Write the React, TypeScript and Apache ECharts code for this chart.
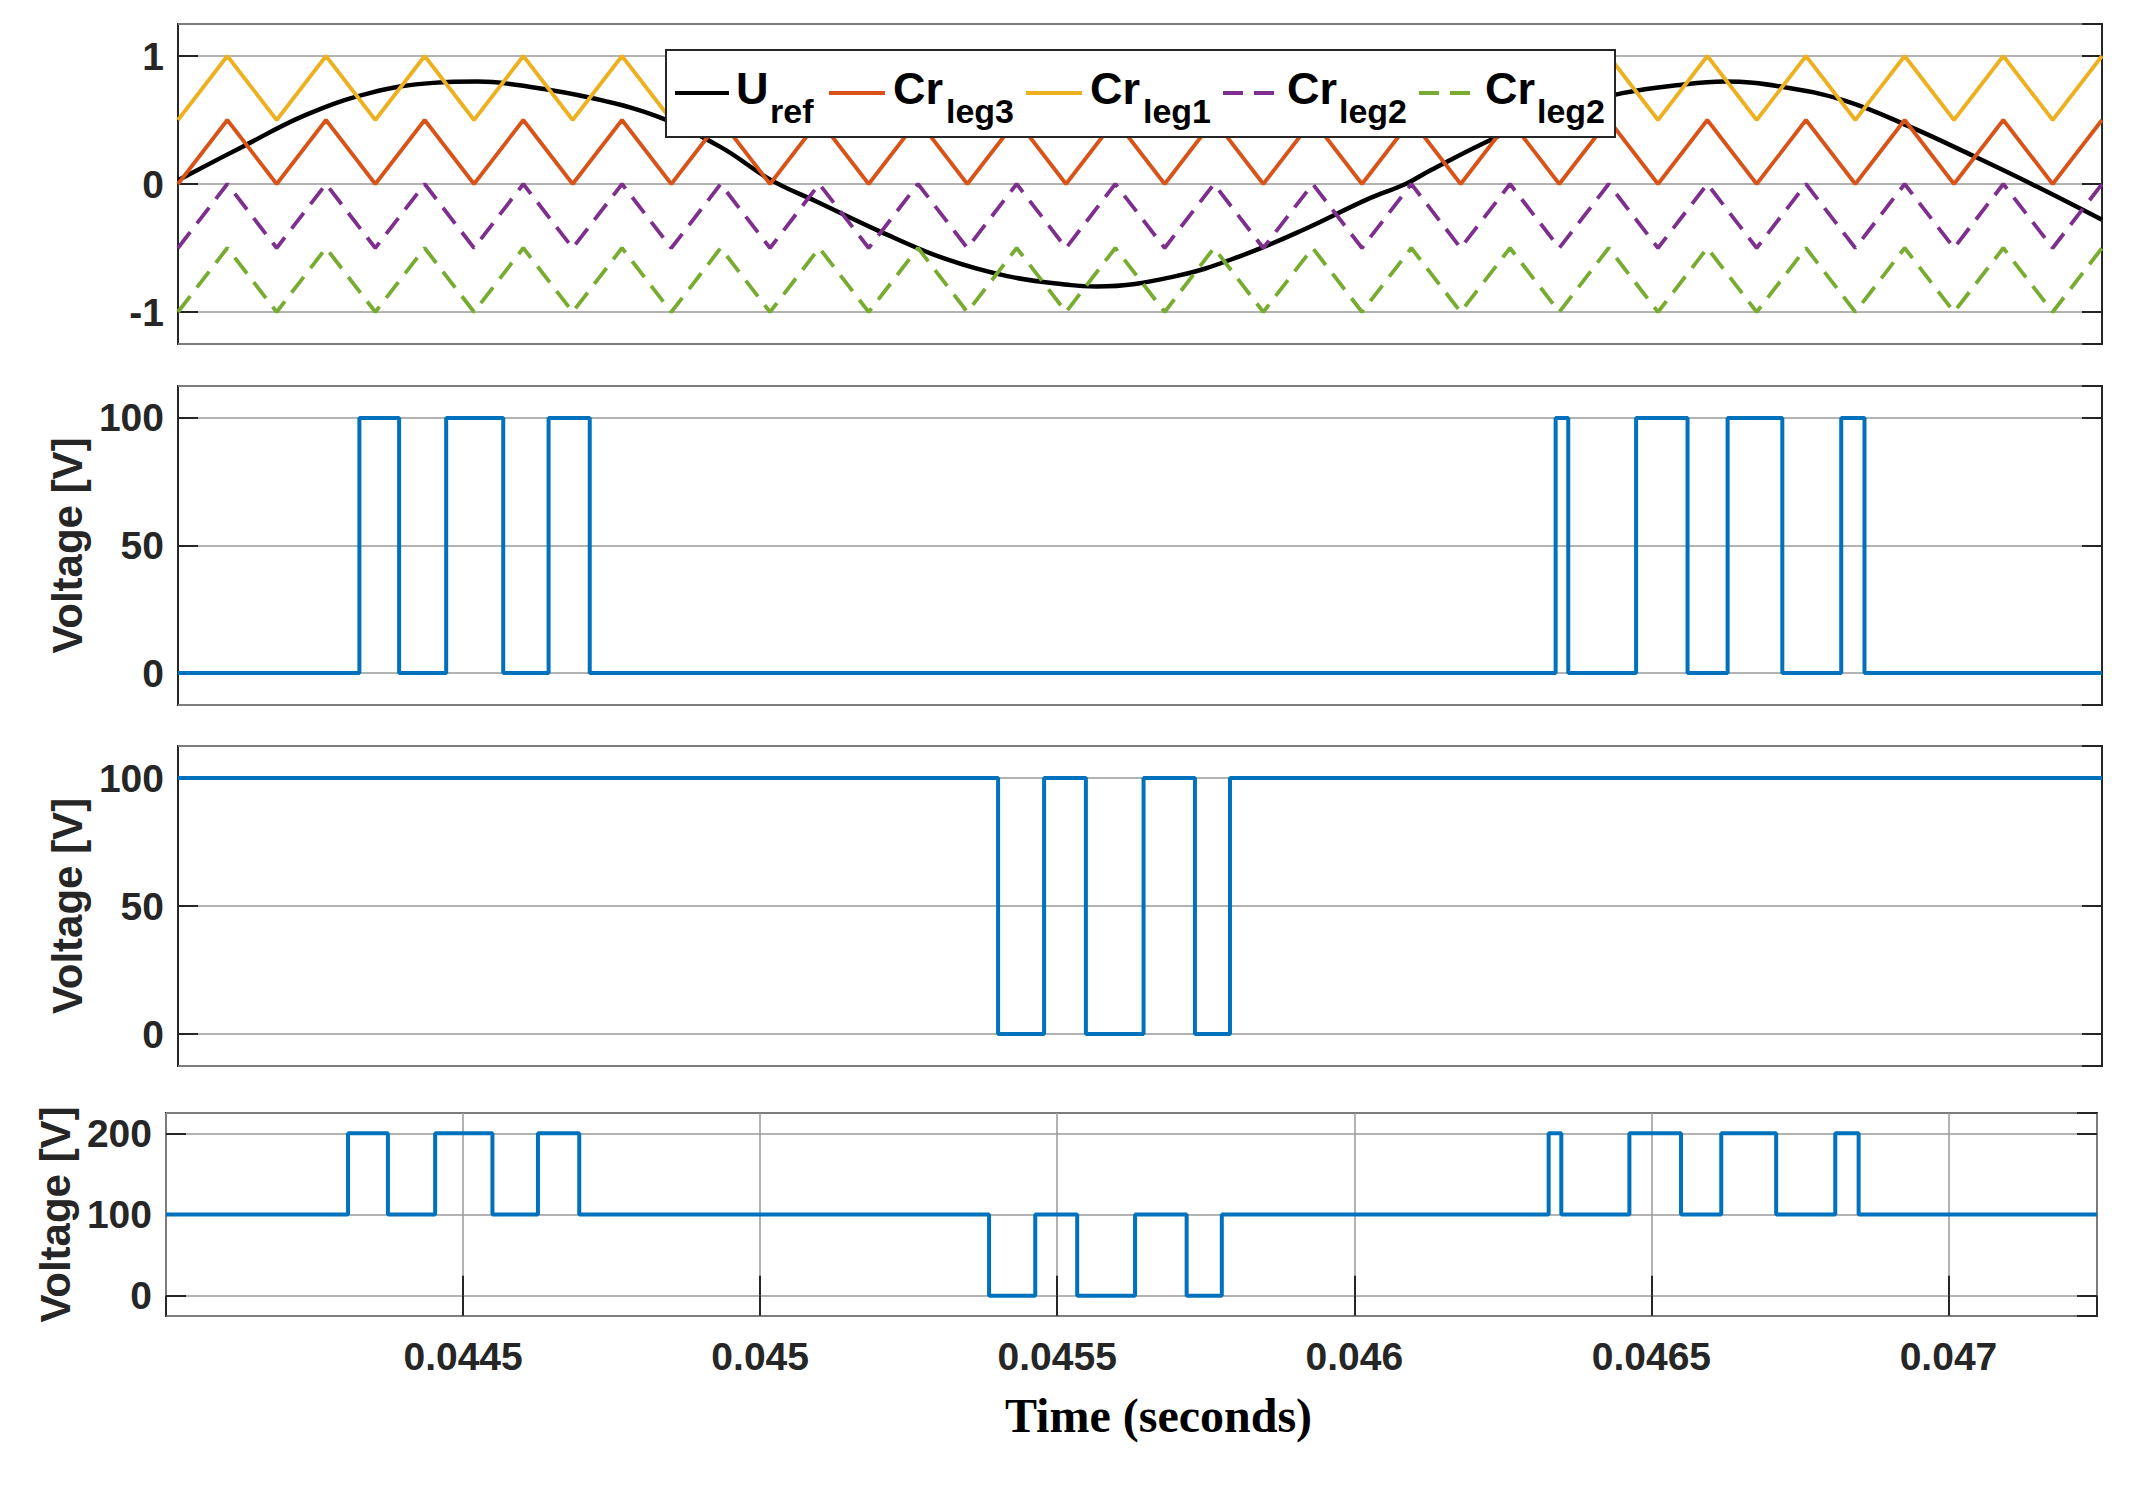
import React, { useEffect, useRef } from 'react';
import * as echarts from 'echarts';

// time axis (seconds)
const timeMin = 0.044;
const timeMax = 0.04725;
const timeStep = 0.0005;

// triangle carrier corners (6 kHz), shared by the four carriers
const carrierTimes = [
  0.044, 0.0440833, 0.0441667, 0.04425, 0.0443333, 0.0444167, 0.0445, 0.0445833,
  0.0446667, 0.04475, 0.0448333, 0.0449167, 0.045, 0.0450833, 0.0451667, 0.04525,
  0.0453333, 0.0454167, 0.0455, 0.0455833, 0.0456667, 0.04575, 0.0458333, 0.0459167,
  0.046, 0.0460833, 0.0461667, 0.04625, 0.0463333, 0.0464167, 0.0465, 0.0465833,
  0.0466667, 0.04675, 0.0468333, 0.0469167, 0.047, 0.0470833, 0.0471667, 0.04725,
];
// [trough, peak] of each carrier
const leg3Range = [0, 0.5];
const leg1Range = [0.5, 1];
const leg2UpperRange = [-0.5, 0];
const leg2LowerRange = [-1, -0.5];

// reference signal
const urefTimes = [
  0.044, 0.0441083, 0.044216, 0.0443236, 0.0444314, 0.0445067, 0.044593, 0.0447006,
  0.0448083, 0.0449161, 0.045002, 0.0450775, 0.0451853, 0.045293, 0.0454008, 0.0455085,
  0.0455516, 0.0456857, 0.0457935, 0.0459011, 0.0460088, 0.0460735, 0.0461166, 0.0462242,
  0.0463319, 0.0464397, 0.0465474, 0.0466119, 0.0467089, 0.0468166, 0.0469244, 0.0470322,
  0.0471397, 0.04725,
];
const urefValues = [
  0.03, 0.29, 0.54, 0.71, 0.79, 0.8, 0.76, 0.67,
  0.53, 0.29, 0.03, -0.135, -0.37, -0.58, -0.72, -0.79,
  -0.8, -0.72, -0.565, -0.357, -0.12, 0.0, 0.11, 0.36,
  0.57, 0.71, 0.78, 0.8, 0.76, 0.65, 0.45, 0.22,
  -0.02, -0.28,
];

// switching instants and held voltages
const leg1Times = [
  0.044, 0.0443064, 0.0443735, 0.044453, 0.0445494, 0.044626, 0.0446955, 0.0463271,
  0.0463484, 0.046463, 0.0465499, 0.0466176, 0.04671, 0.0468095, 0.0468488, 0.04725,
];
const leg1Volts = [0, 100, 0, 100, 0, 100, 0, 100, 0, 100, 0, 100, 0, 100, 0, 0];

const leg2Times = [0.044, 0.0453853, 0.045463, 0.0455336, 0.045631, 0.0457178, 0.045777, 0.04725];
const leg2Volts = [100, 0, 100, 0, 100, 0, 100, 100];

const outTimes = [
  0.044, 0.0443064, 0.0443735, 0.044453, 0.0445494, 0.044626, 0.0446955, 0.0453853,
  0.045463, 0.0455336, 0.045631, 0.0457178, 0.045777, 0.0463271, 0.0463484, 0.046463,
  0.0465499, 0.0466176, 0.04671, 0.0468095, 0.0468488, 0.04725,
];
const outVolts = [100, 200, 100, 200, 100, 200, 100, 0, 100, 0, 100, 0, 100, 200, 100, 200, 100, 200, 100, 200, 100, 100];

// y ranges and tick steps per panel
const yRanges = [
  [-1.25, 1.25, 1],
  [-12.5, 112.5, 50],
  [-12.5, 112.5, 50],
  [-25, 225, 100],
];

const SANS = "'Liberation Sans', Arial, sans-serif";
const DARK = '#262626';
const BLUE = '#0072BD';
const ORANGE = '#D95319';
const YELLOW = '#EDB120';
const PURPLE = '#7E2F8E';
const GREEN = '#77AC30';

const grids = [
  { left: 178, top: 24, width: 1924, height: 320 },
  { left: 178, top: 386, width: 1924, height: 319 },
  { left: 178, top: 746, width: 1924, height: 320 },
  { left: 166, top: 1113, width: 1931, height: 203 },
];

const legendItems = [
  { main: 'U', sub: 'ref', color: '#000', dashed: false, x1: 675, x2: 729, mainX: 736, subX: 770 },
  { main: 'Cr', sub: 'leg3', color: ORANGE, dashed: false, x1: 829, x2: 885, mainX: 893, subX: 946 },
  { main: 'Cr', sub: 'leg1', color: YELLOW, dashed: false, x1: 1026, x2: 1082, mainX: 1090, subX: 1143 },
  { main: 'Cr', sub: 'leg2', color: PURPLE, dashed: true, x1: 1223, x2: 1275, mainX: 1287, subX: 1339 },
  { main: 'Cr', sub: 'leg2', color: GREEN, dashed: true, x1: 1419, x2: 1470, mainX: 1485, subX: 1537 },
];

const App: React.FC = () => {
  const chartRef = useRef<HTMLDivElement | null>(null);

  useEffect(() => {
    if (!chartRef.current) return;
    const chart = echarts.init(chartRef.current, undefined, { renderer: 'svg' });

    const tick = { show: true, inside: true, length: 20, lineStyle: { color: DARK, width: 2 } };
    const gridLine = { show: true, lineStyle: { color: '#9a9a9a', width: 1.5 } };
    const tickFont = { fontFamily: SANS, fontWeight: 'bold', fontSize: 39, color: DARK };

    const xAxis: any[] = [0, 1, 2].map((i) => ({
      type: 'value', gridIndex: i, min: timeMin, max: timeMax,
      axisLine: { show: false }, axisTick: { show: false }, axisLabel: { show: false }, splitLine: { show: false },
    }));
    xAxis.push({
      type: 'value', gridIndex: 3, min: timeMin, max: timeMax, minInterval: timeStep, maxInterval: timeStep,
      axisLine: { show: false }, axisTick: tick,
      axisLabel: {
        ...tickFont, margin: 21, showMinLabel: false, showMaxLabel: false,
        formatter: (v: number) => String(+v.toFixed(5)),
      },
      splitLine: gridLine,
      name: 'Time (seconds)', nameLocation: 'middle', nameGap: 75,
      nameTextStyle: { fontFamily: "'Liberation Serif', 'Times New Roman', serif", fontWeight: 'bold', fontSize: 48, color: '#000', padding: [0, 0, 0, 54] },
    });
    xAxis.push({
      type: 'value', gridIndex: 3, position: 'top', min: timeMin, max: timeMax, minInterval: timeStep, maxInterval: timeStep,
      axisLine: { show: false }, axisTick: tick, axisLabel: { show: false }, splitLine: { show: false },
    });

    const yAxis: any[] = [];
    yRanges.forEach(([lo, hi, step], i) => {
      yAxis.push({
        type: 'value', gridIndex: i, min: lo, max: hi, minInterval: step, maxInterval: step,
        axisLine: { show: false }, axisTick: tick,
        axisLabel: { ...tickFont, margin: 14, showMinLabel: false, showMaxLabel: false },
        splitLine: gridLine,
        name: i === 0 ? '' : 'Voltage [V]', nameLocation: 'middle', nameRotate: 90, nameGap: i === 3 ? 80 : 88,
        nameTextStyle: { fontFamily: SANS, fontWeight: 'bold', fontSize: 42, color: DARK },
      });
      yAxis.push({
        type: 'value', gridIndex: i, position: 'right', min: lo, max: hi, minInterval: step, maxInterval: step,
        axisLine: { show: false }, axisTick: tick, axisLabel: { show: false }, splitLine: { show: false },
      });
    });

    const carrier = (name: string, range: number[], color: string, dashed: boolean) => ({
      name, type: 'line', xAxisIndex: 0, yAxisIndex: 0, showSymbol: false, symbol: 'none',
      lineStyle: { color, width: 3.8, type: dashed ? [20, 11] : 'solid' },
      data: carrierTimes.map((t, k) => [t, range[k % 2]]),
    });
    const pulses = (times: number[], volts: number[], gi: number) => ({
      type: 'line', step: 'end', xAxisIndex: gi, yAxisIndex: gi * 2, showSymbol: false, symbol: 'none',
      lineStyle: { color: BLUE, width: 4 },
      data: times.map((t, k) => [t, volts[k]]),
    });

    const graphic: any[] = [
      { type: 'rect', z: 100, shape: { x: 666, y: 50, width: 949, height: 87 }, style: { fill: '#fff', stroke: DARK, lineWidth: 2 } },
    ];
    legendItems.forEach((it) => {
      graphic.push({
        type: 'line', z: 101, shape: { x1: it.x1, y1: 93, x2: it.x2, y2: 93 },
        style: { stroke: it.color, lineWidth: 4, lineDash: it.dashed ? [20, 11] : null },
      });
      graphic.push({
        type: 'text', z: 101, x: it.mainX, y: 88,
        style: { text: it.main, fontFamily: SANS, fontWeight: 'bold', fontSize: 45, fill: '#000', align: 'left', verticalAlign: 'middle' },
      });
      graphic.push({
        type: 'text', z: 101, x: it.subX, y: 111,
        style: { text: it.sub, fontFamily: SANS, fontWeight: 'bold', fontSize: 34, fill: '#000', align: 'left', verticalAlign: 'middle' },
      });
    });

    chart.setOption({
      animation: false,
      backgroundColor: '#fff',
      grid: grids.map((g) => ({ ...g, show: true, borderColor: DARK, borderWidth: 2, containLabel: false })),
      xAxis,
      yAxis,
      series: [
        {
          name: 'Uref', type: 'line', xAxisIndex: 0, yAxisIndex: 0, smooth: 0.4, showSymbol: false, symbol: 'none',
          lineStyle: { color: '#000', width: 4.5 },
          data: urefTimes.map((t, k) => [t, urefValues[k]]),
        },
        carrier('Cr_leg3', leg3Range, ORANGE, false),
        carrier('Cr_leg1', leg1Range, YELLOW, false),
        carrier('Cr_leg2', leg2UpperRange, PURPLE, true),
        carrier('Cr_leg2b', leg2LowerRange, GREEN, true),
        pulses(leg1Times, leg1Volts, 1),
        pulses(leg2Times, leg2Volts, 2),
        pulses(outTimes, outVolts, 3),
      ],
      graphic,
    });

    return () => {
      chart.dispose();
    };
  }, []);

  return (
    <div
      ref={chartRef}
      style={{ position: 'fixed', left: 0, top: 0, width: '2145px', height: '1485px', backgroundColor: 'white' }}
    />
  );
};

export default App;
